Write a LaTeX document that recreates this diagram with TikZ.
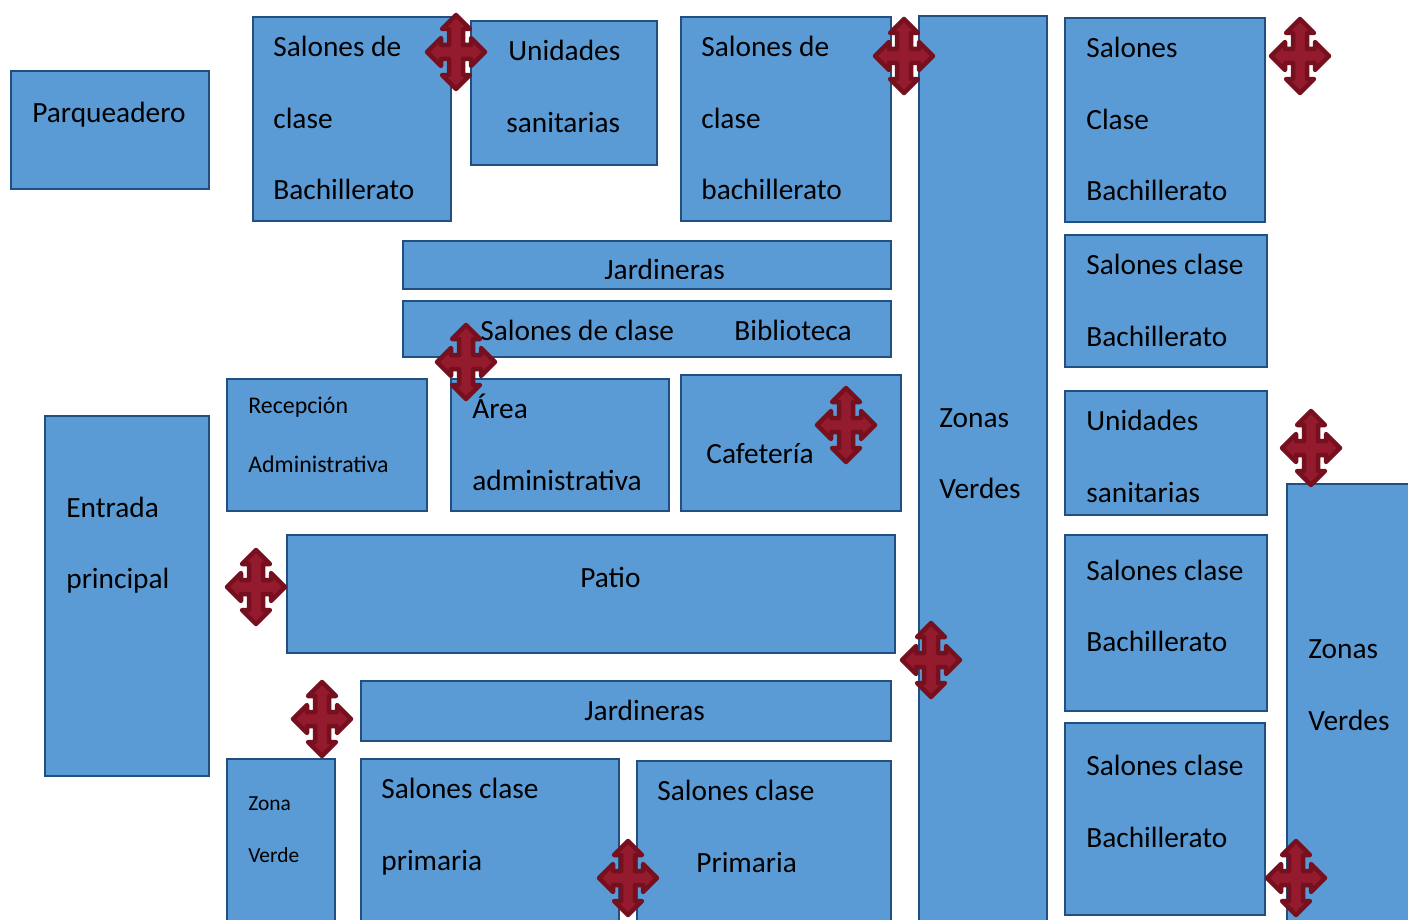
\documentclass[tikz,border=0pt]{standalone}
\usepackage{fontspec}
\setmainfont{Carlito}
\usetikzlibrary{fit}
\definecolor{areafill}{HTML}{5B9BD5}
\definecolor{arealine}{HTML}{215080}
\definecolor{crossfill}{HTML}{941A2E}
\definecolor{crossline}{HTML}{76101F}
\tikzset{
	areabox/.style={rectangle,draw=arealine,fill=areafill,line width=0.055cm,inner sep=0pt,outer sep=0pt},
	areatext/.style={anchor=base west,inner sep=0pt,text=black,yshift=-0.015cm,font=\fontsize{16.7}{20}\selectfont},
	smalltext/.style={areatext,font=\fontsize{13.6}{16}\selectfont},
	tinytext/.style={areatext,font=\fontsize{12.2}{15}\selectfont},
	cross/.pic={
		\draw[fill=crossfill,draw=crossline,line width=0.09cm,line join=round]
		(0,-37)--(14,-23)--(7,-23)--(7,-7)--(15,-7)--(15,-14)--(29,0)--(15,14)--(15,7)--(7,7)--(7,23)--(14,23)--(0,37)
		--(-14,23)--(-7,23)--(-7,7)--(-15,7)--(-15,14)--(-29,0)--(-15,-14)--(-15,-7)--(-7,-7)--(-7,-23)--(-14,-23)--cycle;
	}
}
\begin{document}
\begin{tikzpicture}[x=0.02cm,y=-0.02cm]
	\useasboundingbox (0,0) rectangle (1408,919);
	\clip (0,0) rectangle (1408,919);
	% areas
	\foreach \name/\xa/\ya/\xb/\yb in {
		parqueadero/11/71/209/189,salonesa/253/17/451/221,unidadesa/471/21/657/165,
		salonesb/681/17/891/221,zonasa/919/16/1047/940,salonesc/1065/18/1265/222,
		salonesd/1065/235/1267/367,unidadesb/1065/391/1267/515,salonese/1065/535/1267/711,
		salonesf/1065/723/1265/915,zonasb/1287/484/1430/940,jardinerasa/403/241/891/289,
		salonesg/403/301/891/357,recepcion/227/379/427/511,area/451/379/669/511,
		cafeteria/681/375/901/511,entrada/45/416/209/776,patio/287/535/895/653,
		jardinerasb/361/681/891/741,zonac/227/759/335/940,salonesh/361/759/619/940,
		salonesi/637/761/891/940}
	\node[areabox,fit={(\xa,\ya) (\xb,\yb)}] (\name) {};
	% labels
	\foreach \x/\y/\txt [count=\i] in {
		32/122/Parqueadero,273/56/Salones de,273/128/clase,273/199/Bachillerato,
		508/60/Unidades,506/132/sanitarias,701/56/Salones de,701/128/clase,701/199/bachillerato,
		939/427/Zonas,939/498/Verdes,1086/57/Salones,1086/129/Clase,1086/200/Bachillerato,
		1086/274/Salones clase,1086/346/Bachillerato,1086/430/Unidades,1086/502/sanitarias,
		1086/580/Salones clase,1086/651/Bachillerato,1086/775/Salones clase,1086/847/Bachillerato,
		1308/658/Zonas,1308/730/Verdes,480/340/Salones de clase,734/340/Biblioteca,
		472/418/Área,472/490/administrativa,706/463/Cafetería,66/517/Entrada,66/588/principal,
		580/587/Patio,584/720/Jardineras,381/798/Salones clase,381/870/primaria,
		657/800/Salones clase,696/872/Primaria}
	\node[areatext] (label\i) at (\x,\y) {\txt};
	\foreach \x/\y/\txt [count=\i] in {248/413/Recepción,248/472/Administrativa}
	\node[smalltext] (small\i) at (\x,\y) {\txt};
	\foreach \x/\y/\txt [count=\i] in {248/810/Zona,248/862/Verde}
	\node[tinytext] (tiny\i) at (\x,\y) {\txt};
	\begin{scope}
		\clip (403,241) rectangle (891,278);
		\node[areatext] (jardineras) at (604,279) {Jardineras};
	\end{scope}
	% arrows
	\foreach \x/\y in {456/52,904/56,1300/56,466/362,846/425,1311/448,256/587,931/660,322/719,628/878,1296/878}
	\pic at (\x,\y) {cross};
\end{tikzpicture}
\end{document}
